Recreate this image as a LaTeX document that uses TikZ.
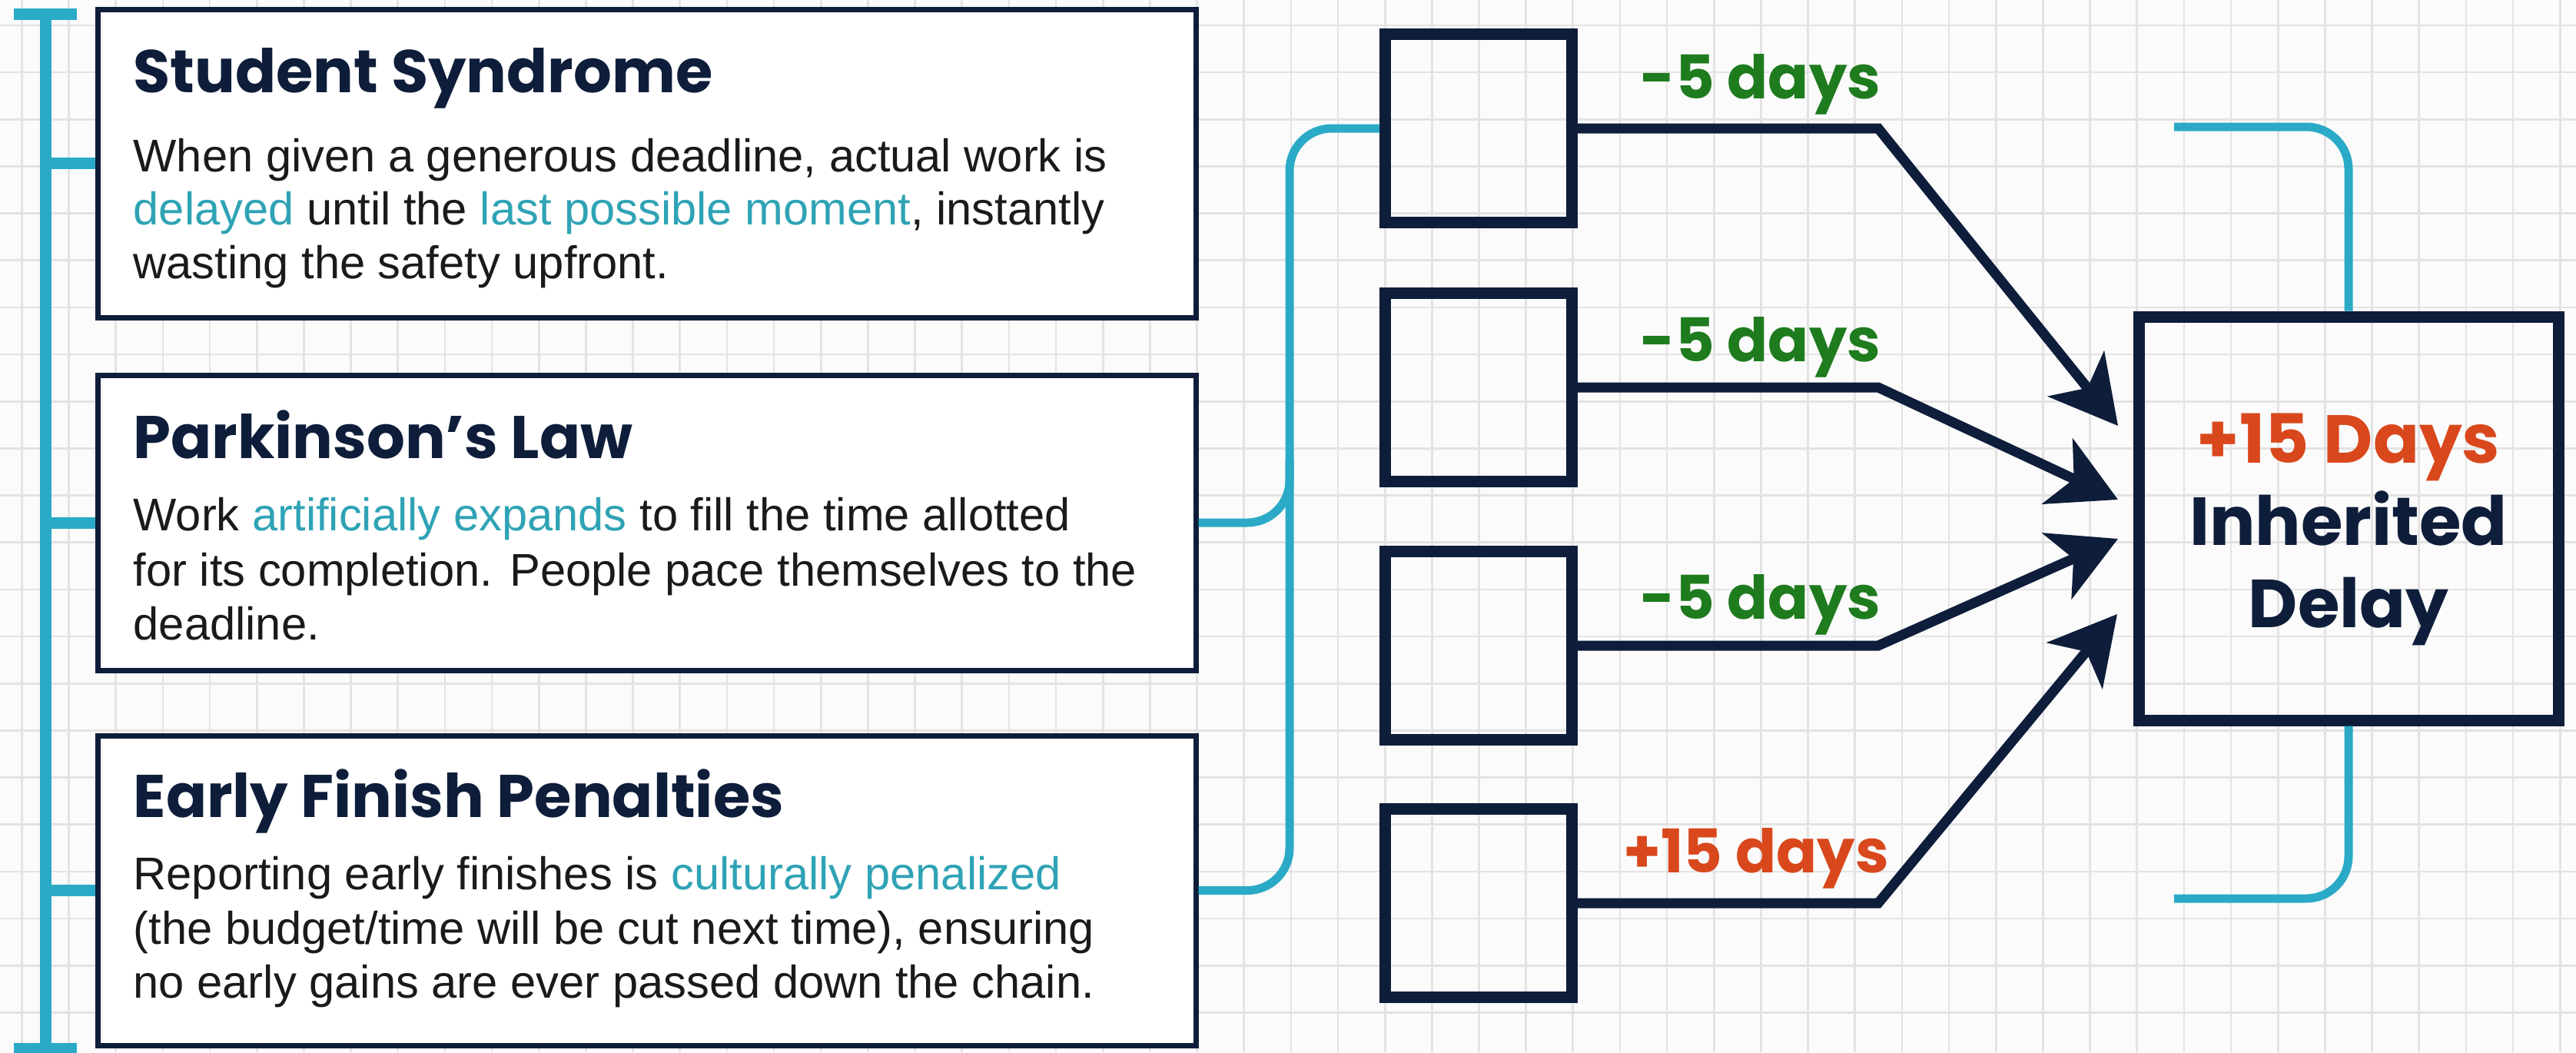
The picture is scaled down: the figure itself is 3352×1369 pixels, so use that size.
\documentclass[tikz,border=0pt]{standalone}
\usepackage{fontspec}
\setmainfont{Liberation Sans}
\newfontfamily\headfont{Poppins}
\usetikzlibrary{arrows.meta}

\definecolor{navy}{HTML}{0E1D3A}
\definecolor{ink}{HTML}{1A1A1A}
\definecolor{railteal}{HTML}{2AAAC6}
\definecolor{hlteal}{HTML}{2FA3B5}
\definecolor{gridgray}{HTML}{E3E3E3}
\definecolor{paper}{HTML}{FBFBFB}
\definecolor{gaingreen}{HTML}{1E7B1E}
\definecolor{lossorange}{HTML}{D9481C}

\newcommand{\hl}[1]{\textcolor{hlteal}{#1}}

\begin{document}
\begin{tikzpicture}[x=0.3pt, y=-0.3pt,
  gridline/.style={draw=gridgray, line width=0.8pt},
  infobox/.style={rectangle, draw=navy, line width=2.1pt, fill=white, inner sep=0pt, minimum width=428.7pt},
  taskbox/.style={rectangle, draw=navy, line width=4.5pt, inner sep=0pt, minimum width=72.9pt, minimum height=73.5pt},
  sumbox/.style={rectangle, draw=navy, line width=4.5pt, inner sep=0pt, minimum width=163.8pt, minimum height=157.5pt},
  flow/.style={draw=navy, line width=3.9pt, line join=miter, -{Stealth[length=26pt, width=28pt, inset=7pt]}},
  link/.style={draw=railteal, line width=3.3pt, rounded corners=16.5pt},
  rail/.style={draw=railteal, line width=4.5pt},
  title/.style={font=\headfont\bfseries\fontsize{23.5}{28}\selectfont, text=navy, anchor=base west, inner sep=0pt},
  body/.style={font=\fontsize{17.9}{21}\selectfont, text=ink, anchor=base west, inner sep=0pt},
  delta/.style={font=\headfont\bfseries\fontsize{23.5}{28}\selectfont, anchor=base, inner sep=0pt},
  total/.style={font=\headfont\bfseries\fontsize{26.5}{31}\selectfont, anchor=base, inner sep=0pt}
]
% page and squared paper
\useasboundingbox (0,0) rectangle (3352,1369);
\fill[paper] (0,0) rectangle (3352,1369);
\foreach \k in {0,...,54} { \draw[gridline] ({28.5+61.16*\k},0) -- ({28.5+61.16*\k},1369); }
\foreach \k in {0,...,21} { \draw[gridline] (0,{33+61.16*\k}) -- (3352,{33+61.16*\k}); }

% anchor points for the rails
\coordinate (ltop) at (59,18);
\coordinate (lbot) at (59,1364);
\coordinate (spine) at (1678,0);
\coordinate (bendx) at (2444,0);
\coordinate (rtop) at (2829,165);
\coordinate (rbot) at (2829,1169);

% the three cause boxes
\node[infobox, minimum height=120.3pt] (b1) at (841.5,212.5) {};
\node[infobox, minimum height=115.2pt] (b2) at (841.5,680) {};
\node[infobox, minimum height=120.9pt] (b3) at (841.5,1158.5) {};

% left rail with caps and ticks
\draw[rail] ([xshift=-12.3pt]ltop) -- ([xshift=12.3pt]ltop);
\draw[rail] ([xshift=-12.3pt]lbot) -- ([xshift=12.3pt]lbot);
\draw[rail] (ltop) -- (lbot);
\draw[rail] (b1.west -| ltop) -- (b1.west);
\draw[rail] (b2.west -| ltop) -- (b2.west);
\draw[rail] (b3.west -| ltop) -- (b3.west);

% box texts
\node[title] (t1) at (173,120) {Student Syndrome};
\node[body] (t1a) at (173,223) {When given a generous deadline, actual work is};
\node[body] (t1b) at (173,292) {\hl{delayed} until the \hl{last possible moment}, instantly};
\node[body] (t1c) at (173,362) {wasting the safety upfront.};

\node[title] (t2) at (173,596) {Parkinson’s Law};
\node[body] (t2a) at (173,690) {Work \hl{artificially expands} to fill the time allotted};
\node[body] (t2b) at (173,762) {for its completion. People pace themselves to the};
\node[body] (t2c) at (173,832) {deadline.};

\node[title] (t3) at (173,1063) {Early Finish Penalties};
\node[body] (t3a) at (173,1157) {Reporting early finishes is \hl{culturally penalized}};
\node[body] (t3b) at (173,1228) {(the budget/time will be cut next time), ensuring};
\node[body] (t3c) at (173,1298) {no early gains are ever passed down the chain.};

% task boxes
\node[taskbox] (s1) at (1924,167) {};
\node[taskbox] (s2) at (1924,504) {};
\node[taskbox] (s3) at (1924,840) {};
\node[taskbox] (s4) at (1924,1175) {};

% connector from the causes to the tasks
\draw[link] (s1.west) -- (s1.west -| spine) -- (b3.east -| spine) -- (b3.east);
\draw[link] (b2.east) -- (b2.east -| spine) -- ([yshift=24pt]b2.east -| spine);

% total box
\node[sumbox] (sum) at (3056,674.5) {};
\node[total, text=lossorange] (sumA) at (3056,602) {+15 Days};
\node[total, text=navy] (sumB) at (3056,709) {Inherited};
\node[total, text=navy] (sumC) at (3056,816) {Delay};

% right bracket
\draw[link] (rtop) -| (sum.north);
\draw[link] (rbot) -| (sum.south);

% arrow tips in front of the total box
\coordinate (in1) at (2756,554);
\coordinate (in2) at (2756,650);
\coordinate (in3) at (2756,701);
\coordinate (in4) at (2755,799);

\draw[flow] (s1.east) -- (s1.east -| bendx) -- (in1);
\draw[flow] (s2.east) -- (s2.east -| bendx) -- (in2);
\draw[flow] (s3.east) -- (s3.east -| bendx) -- (in3);
\draw[flow] (s4.east) -- (s4.east -| bendx) -- (in4);

% duration labels
\node[delta, text=gaingreen] (d1) at (2291,128) {-5 days};
\node[delta, text=gaingreen] (d2) at (2291,470) {-5 days};
\node[delta, text=gaingreen] (d3) at (2291,805) {-5 days};
\node[delta, text=lossorange] (d4) at (2285,1135) {+15 days};
\end{tikzpicture}
\end{document}
